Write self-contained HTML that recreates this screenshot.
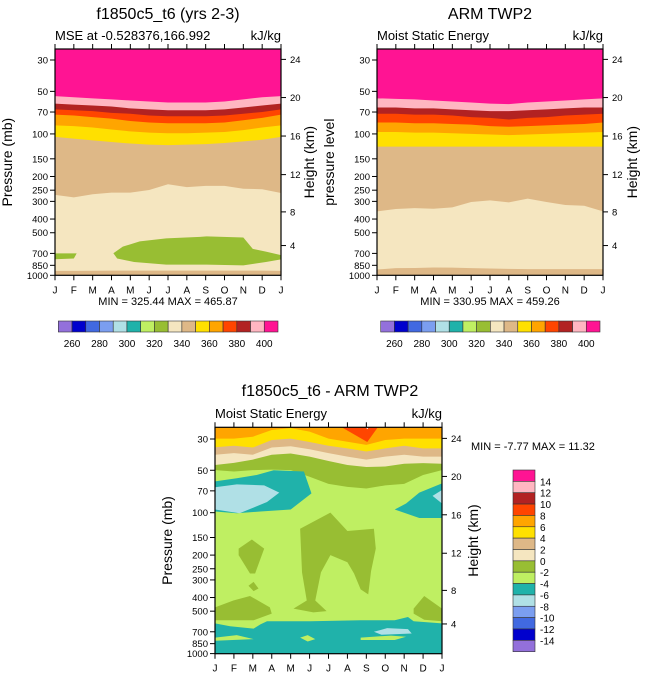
<!DOCTYPE html>
<html><head><meta charset="utf-8">
<style>
html,body{margin:0;padding:0;background:#fff;}
svg{display:block;font-family:"Liberation Sans",sans-serif;}
</style></head>
<body>
<svg id="fig" width="648" height="678" viewBox="0 0 648 678" xmlns="http://www.w3.org/2000/svg">
<defs>
<clipPath id="c1"><rect x="55" y="49" width="226" height="226.3"/></clipPath>
<clipPath id="c2"><rect x="377" y="49" width="226" height="226.3"/></clipPath>
<clipPath id="c3"><rect x="215" y="427.3" width="227" height="226.4"/></clipPath>
</defs>
</svg>
<script>
// ---------- data ----------
const months = ["J","F","M","A","M","J","J","A","S","O","N","D","J"];
const pressureTicks = [30,50,70,100,150,200,250,300,400,500,700,850,1000];
const heightTicks = [4,8,12,16,20,24];
const heightTickPressures = [616,356,194,103.5,55.3,29.7];
const absLevels = [260,280,300,320,340,360,380,400];
const diffLevels = [14,12,10,8,6,4,2,0,-2,-4,-6,-8,-10,-12,-14];
const colors16 = ["#9370DB","#0000CD","#4169E1","#7B9EF0","#B0E0E6","#20B2AA","#BFEF62","#98BE33","#F5E6C0","#DEB887","#FFE000","#FFA500","#FF4500","#B22222","#FFB6C1","#FF1493"];

// Panel 1 (model) boundary pressures per month (J..J)
const m1_surface   = [930,930,928,927,927,927,927,927,927,927,927,927,930];
const m1_tanWheat  = [270,281,267,260,260,249,227,238,233,233,244,246,262];
const m1_goldTan   = [105,108,111,114,117,119,120,119,118,116,113,110,105];
const m1_orangeGold= [87,88,90,93,96,98,99,99,98,97,94,90,87];
const m1_redOrange = [73,74,76,78,81,83,84,84,84,83,80,77,73];
const m1_brickRed  = [67,68,69,71,72,74,75,75,75,74,72,70,67];
const m1_pinkBrick = [61,62,63,64,66,67,68,68,68,67,65,63,61];
const m1_magPink   = [54,55,56,57,58,59,60,60,60,59,57,55,54];
const m1_greenBlobMonths = [3.1,3.6,4.5,5.9,7.7,8.05,10,10.5,11.2,12,12,11.2,10,8.05,5.9,4.2,3.3];
const m1_greenBlobP      = [698,627,575,548,535,530,540,650,680,720,772,805,850,840,840,805,760];
const m1_smallBlobMonths = [0,1.15,1.0,0];
const m1_smallBlobP      = [700,700,760,770];

// Panel 2 (obs)
const m2_surface   = [910,890,888,880,882,890,895,900,905,905,905,905,905];
const m2_tanWheat  = [353,340,335,338,331,303,295,305,287,303,318,322,353];
const m2_goldTan   = [123,123,123,123,123,123,123,123,123,123,123,123,123];
const m2_orangeGold= [97,97,98,98,99,100,101,102,101,100,99,98,97];
const m2_redOrange = [83,83,84,84,85,86,88,89,88,87,86,85,83];
const m2_brickRed  = [72,72,73,73,74,76,77,79,77,76,74,73,72];
const m2_pinkBrick = [65,65,66,66,67,68,69,69,68,67,66,65,65];
const m2_magPink   = [56,56.5,57,58,59,60,61,61.5,60,59,58,57,56];

// Panel 3 (difference)
const d_orangeGold = [29.8,29.8,28.9,25.9,25.1,26.6,29.8,31.4,33,30.5,29.8,29.8,29.8];
const d_goldTan    = [34.3,33.5,34.5,30.5,29.8,31.5,33.5,35,36.8,35,33.5,35,35];
const d_tanWheat   = [38.8,37.8,38.8,34.5,33.8,35.5,37.8,40,42,40,38.8,40,40];
const d_wheatOlive = [45.9,44.3,42,38.8,38,40,43,45.9,47.4,47,45,44.5,45];
const d_oliveGreen = [49.9,51,49.9,49.5,49.9,55.6,62.4,65.6,67.4,64,62.4,54,49.9];
function toMP(pairs){return pairs;}
// blobs: [month, pressure] pairs
const d_redTri = [[5.5,20],[8.05,31.5],[9.1,20]];
const d_whiteTri = [[7.5,20],[8.05,25.6],[8.6,20]];
const d_tealTL = [[0,53],[0,98],[1.15,101],[2.4,98],[4,95],[5.1,73],[4.7,51],[3.1,50],[2.2,54],[1.15,57],[0,60]];
const d_blueTL = [[0,66],[1.15,63],[2.6,64],[3.4,72],[2.75,84],[1.3,101],[0,95]];
const d_tealR = [[12,62],[10.8,72],[10.1,86],[9.5,95],[10.8,109],[12,109]];
const d_blueR = [[12,69],[11.5,76],[12,86]];
const d_oliveA = [[1.25,180],[1.95,155],[2.6,180],[2.12,270],[1.85,270],[1.25,200]];
const d_oliveDiamond = [[1.77,330],[2.04,310],[2.3,345],[2.04,360]];
const d_oliveCenter = [[4.5,130],[6.1,100],[7.0,135],[8.4,130],[8.5,180],[8.25,260],[8.1,380],[7.7,350],[7.35,270],[7.0,225],[6.1,200],[5.6,265],[5.3,420],[5.9,500],[5.2,510],[4.15,480],[4.85,420],[4.6,265]];
const d_oliveBL = [[0,470],[0.97,420],[1.85,390],[2.9,470],[3.0,520],[2.04,580],[0,580]];
const d_oliveBR = [[10.5,480],[11.06,390],[12,480],[12,590],[11.06,575],[10.5,520]];
const d_tealBottom = [[0,610],[0.8,640],[2.04,665],[2.4,620],[2.75,590],[5.05,590],[7.7,580],[9.5,580],[10.2,550],[10.5,590],[12,610],[12,1000],[0,1000]];
const d_greenHole1 = [[0,770],[1.15,740],[2.04,790],[0,810]];
const d_greenHole2 = [[4.5,770],[4.9,740],[5.3,790],[4.9,820]];
const d_greenHole3 = [[7.7,770],[9.3,745],[10.1,760],[9.5,800],[7.7,800]];
const d_blueBottom = [[8.4,700],[9.1,660],[10.2,670],[10.4,720],[8.8,735]];

// ---------- drawing ----------
const NS="http://www.w3.org/2000/svg";
const svg=document.getElementById('fig');
function el(tag,attrs,parent){const e=document.createElementNS(NS,tag);for(const k in attrs)e.setAttribute(k,attrs[k]);(parent||svg).appendChild(e);return e;}
function txt(s,x,y,size,anchor,parent,extra){const t=el('text',Object.assign({x:x,y:y,'font-size':size,'text-anchor':anchor||'middle',fill:'#000'},extra||{}),parent);t.textContent=s;return t;}

function makePanel(x0,x1,y30,scale,yTop,yBot){
  return {x0,x1,y30,scale,yTop,yBot,
    xS:m=>x0+(x1-x0)*m/12,
    yS:p=>y30+scale*Math.log(p/30)};
}
const P1=makePanel(55,281,60,61.4,49,275.3);
const P2=makePanel(377,603,60,61.4,49,275.3);
const P3=makePanel(215,442,439,61.2,427.3,653.7);

function bandAbove(P,bound,color,g,name){
  let d=`M${P.x0-1},${P.yTop-1}`;
  bound.forEach((p,i)=>{d+=` L${P.xS(i).toFixed(2)},${P.yS(p).toFixed(2)}`;});
  d+=` L${P.x1+1},${P.yTop-1} Z`;
  const e=el('path',{d:d,fill:color},g);
  
  
}
function blob(P,pairs,color,g,name){
  const d='M'+pairs.map(q=>P.xS(q[0]).toFixed(2)+','+P.yS(q[1]).toFixed(2)).join(' L')+' Z';
  const e=el('path',{d:d,fill:color},g);
  
  
}
function blobArr(P,ms,ps,color,g,name){blob(P,ms.map((m,i)=>[m,ps[i]]),color,g,name);}

function axes(P,g,leftTitle,rightTitleX,leftTitleX){
  const fr=el('rect',{x:P.x0,y:P.yTop,width:P.x1-P.x0,height:P.yBot-P.yTop,fill:'none',stroke:'#000','stroke-width':1.2},g);
  
  
  months.forEach((m,i)=>{
    const x=P.xS(i);
    el('line',{x1:x,y1:P.yBot,x2:x,y2:P.yBot+5,stroke:'#000'},g);
    el('line',{x1:x,y1:P.yTop,x2:x,y2:P.yTop-5,stroke:'#000'},g);
    const t=txt(m,x,P.yBot+18,10,'middle',g);
    
    
  });
  pressureTicks.forEach(p=>{
    const y=P.yS(p);
    el('line',{x1:P.x0,y1:y,x2:P.x0-5,y2:y,stroke:'#000'},g);
    const t=txt(String(p),P.x0-7,y+3.5,9.5,'end',g);
    
    
  });
  heightTicks.forEach((h,i)=>{
    const y=P.yS(heightTickPressures[i]);
    el('line',{x1:P.x1,y1:y,x2:P.x1+5,y2:y,stroke:'#000'},g);
    const t=txt(String(h),P.x1+9,y+3.5,9.5,'start',g);
    
    
  });
  const cy=(P.yTop+P.yBot)/2;
  const lt=txt(leftTitle,leftTitleX,cy,14,'middle',g,{transform:`rotate(-90 ${leftTitleX} ${cy})`});
  
  
  const rt=txt('Height (km)',rightTitleX,cy,14,'middle',g,{transform:`rotate(-90 ${rightTitleX} ${cy})`});
  
  
}

function hColorbar(x0,x1,y0,h,g){
  const w=(x1-x0)/16;
  colors16.forEach((c,i)=>{
    const r=el('rect',{x:x0+i*w,y:y0,width:w,height:h,fill:c,stroke:'#333','stroke-width':0.6},g);
    
    
  });
  absLevels.forEach((v,i)=>{
    const t=txt(String(v),x0+w*(1+2*i),y0+h+15,10,'middle',g);
    
    
  });
}

// ---- Panel 1 ----
const g1=el('g',{});


const g1c=el('g',{'clip-path':'url(#c1)'},g1);
el('rect',{x:55,y:49,width:226,height:227,fill:colors16[9]},g1c);
bandAbove(P1,m1_surface,colors16[8],g1c,'band-wheat');
bandAbove(P1,m1_tanWheat,colors16[9],g1c,'band-tan');
bandAbove(P1,m1_goldTan,colors16[10],g1c,'band-gold');
bandAbove(P1,m1_orangeGold,colors16[11],g1c,'band-orange');
bandAbove(P1,m1_redOrange,colors16[12],g1c,'band-orangered');
bandAbove(P1,m1_brickRed,colors16[13],g1c,'band-firebrick');
bandAbove(P1,m1_pinkBrick,colors16[14],g1c,'band-pink');
bandAbove(P1,m1_magPink,colors16[15],g1c,'band-magenta');
blobArr(P1,m1_greenBlobMonths,m1_greenBlobP,colors16[7],g1c,'green-region');
blobArr(P1,m1_smallBlobMonths,m1_smallBlobP,colors16[7],g1c,'green-region-small');
axes(P1,g1,'Pressure (mb)',314,12);
let t;
t=txt('f1850c5_t6 (yrs 2-3)',168,19,16,'middle',g1);  
t=txt('MSE at -0.528376,166.992',55,40,13,'start',g1);  
t=txt('kJ/kg',281,40,13,'end',g1);  
t=txt('MIN = 325.44 MAX = 465.87',168,305,11,'middle',g1);  
hColorbar(58.3,278,321,11,g1);

// ---- Panel 2 ----
const g2=el('g',{});


const g2c=el('g',{'clip-path':'url(#c2)'},g2);
el('rect',{x:377,y:49,width:226,height:227,fill:colors16[9]},g2c);
bandAbove(P2,m2_surface,colors16[8],g2c,'band-wheat');
bandAbove(P2,m2_tanWheat,colors16[9],g2c,'band-tan');
bandAbove(P2,m2_goldTan,colors16[10],g2c,'band-gold');
bandAbove(P2,m2_orangeGold,colors16[11],g2c,'band-orange');
bandAbove(P2,m2_redOrange,colors16[12],g2c,'band-orangered');
bandAbove(P2,m2_brickRed,colors16[13],g2c,'band-firebrick');
bandAbove(P2,m2_pinkBrick,colors16[14],g2c,'band-pink');
bandAbove(P2,m2_magPink,colors16[15],g2c,'band-magenta');
axes(P2,g2,'pressure level',637,334);
t=txt('ARM TWP2',490,19,16,'middle',g2);  
t=txt('Moist Static Energy',377,40,13,'start',g2);  
t=txt('kJ/kg',603,40,13,'end',g2);  
t=txt('MIN = 330.95 MAX = 459.26',490,305,11,'middle',g2);  
hColorbar(380.7,600,321,11,g2);

// ---- Panel 3 ----
const g3=el('g',{});


const g3c=el('g',{'clip-path':'url(#c3)'},g3);
el('rect',{x:215,y:427,width:227,height:227,fill:colors16[6]},g3c);
bandAbove(P3,d_oliveGreen,colors16[7],g3c,'band-olive');
bandAbove(P3,d_wheatOlive,colors16[8],g3c,'band-wheat');
bandAbove(P3,d_tanWheat,colors16[9],g3c,'band-tan');
bandAbove(P3,d_goldTan,colors16[10],g3c,'band-gold');
bandAbove(P3,d_orangeGold,colors16[11],g3c,'band-orange');
blob(P3,d_redTri,colors16[12],g3c,'region-orangered');
blob(P3,d_whiteTri,'#ffffff',g3c,'region-white');
blob(P3,d_tealTL,colors16[5],g3c,'region-teal-upper-left');
blob(P3,d_blueTL,colors16[4],g3c,'region-lightblue-upper-left');
blob(P3,d_tealR,colors16[5],g3c,'region-teal-upper-right');
blob(P3,d_blueR,colors16[4],g3c,'region-lightblue-upper-right');
blob(P3,d_oliveA,colors16[7],g3c,'region-olive-feb');
blob(P3,d_oliveDiamond,colors16[7],g3c,'region-olive-small');
blob(P3,d_oliveCenter,colors16[7],g3c,'region-olive-center');
blob(P3,d_oliveBL,colors16[7],g3c,'region-olive-lower-left');
blob(P3,d_oliveBR,colors16[7],g3c,'region-olive-lower-right');
blob(P3,d_tealBottom,colors16[5],g3c,'region-teal-bottom');
blob(P3,d_greenHole1,colors16[6],g3c,'region-green-bottom-1');
blob(P3,d_greenHole2,colors16[6],g3c,'region-green-bottom-2');
blob(P3,d_greenHole3,colors16[6],g3c,'region-green-bottom-3');
blob(P3,d_blueBottom,colors16[4],g3c,'region-lightblue-bottom');
axes(P3,g3,'Pressure (mb)',478,172);
t=txt('f1850c5_t6 - ARM TWP2',330,396,16,'middle',g3);  
t=txt('Moist Static Energy',215,418,13,'start',g3);  
t=txt('kJ/kg',442,418,13,'end',g3);  
t=txt('MIN =  -7.77 MAX =  11.32',471,450,11,'start',g3);  
// vertical colorbar (top = highest)
const vb={x:513,y0:470,y1:651.7,w:22};
const vh=(vb.y1-vb.y0)/16;
colors16.slice().reverse().forEach((c,i)=>{
  const r=el('rect',{x:vb.x,y:vb.y0+i*vh,width:vb.w,height:vh,fill:c,stroke:'#333','stroke-width':0.6},g3);
  
  
});
diffLevels.forEach((v,i)=>{
  const tt=txt(String(v),540,vb.y0+vh*(i+1)+4,10,'start',g3);
  
  
});
</script>
</body></html>
